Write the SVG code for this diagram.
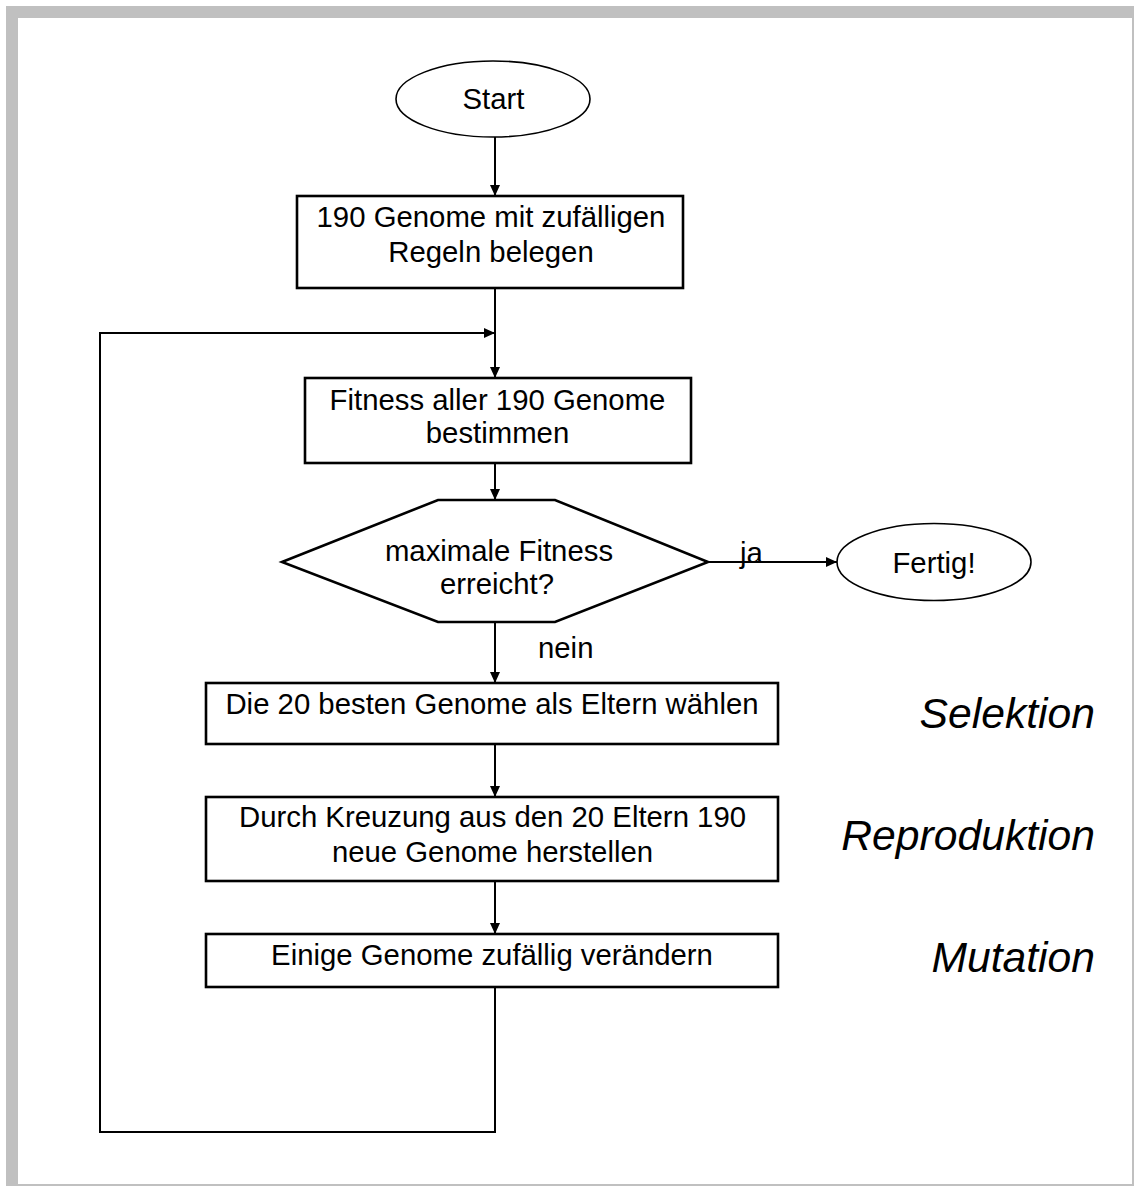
<svg xmlns="http://www.w3.org/2000/svg" width="1134" height="1186" viewBox="0 0 1134 1186">
  <style>
    text { font-family: "Liberation Sans", Arial, sans-serif; fill: #000; }
    .t { font-size: 29.33px; text-anchor: middle; }
    .lab { font-size: 29.33px; }
    .side { font-size: 42.67px; font-style: italic; text-anchor: end; }
    .box { fill: #fff; stroke: #000; stroke-width: 2.6; }
    .ell { fill: #fff; stroke: #000; stroke-width: 1.6; }
    .con { fill: none; stroke: #000; stroke-width: 2; }
  </style>
  <defs>
    <marker id="arr" viewBox="0 0 11 10" refX="11" refY="5" markerWidth="11" markerHeight="10" markerUnits="userSpaceOnUse" orient="auto">
      <path d="M0,0 L11,5 L0,10 z" fill="#000"/>
    </marker>
  </defs>
  <rect x="6" y="6" width="1128" height="1180" fill="#c0c0c0"/>
  <rect x="18" y="18" width="1114" height="1166" fill="#fff"/>

  <g id="connectors">
    <line class="con" x1="495" y1="137" x2="495" y2="196" marker-end="url(#arr)"/>
    <line class="con" x1="495" y1="288" x2="495" y2="378" marker-end="url(#arr)"/>
    <line class="con" x1="495" y1="463" x2="495" y2="500" marker-end="url(#arr)"/>
    <line class="con" x1="708" y1="562" x2="837" y2="562" marker-end="url(#arr)"/>
    <line class="con" x1="495" y1="622" x2="495" y2="683" marker-end="url(#arr)"/>
    <line class="con" x1="495" y1="744" x2="495" y2="797" marker-end="url(#arr)"/>
    <line class="con" x1="495" y1="881" x2="495" y2="934" marker-end="url(#arr)"/>
    <path class="con" d="M495,987 V1132 H100 V333 H495" marker-end="url(#arr)"/>
    <text class="lab" x="740" y="563">ja</text>
    <text class="lab" x="538" y="658">nein</text>
  </g>

  <g id="start">
    <ellipse class="ell" cx="493" cy="99" rx="97" ry="38"/>
    <text class="t" x="493.5" y="109">Start</text>
  </g>

  <g id="init">
    <rect class="box" x="297" y="196" width="386" height="92"/>
    <text class="t" x="491" y="227">190 Genome mit zufälligen</text>
    <text class="t" x="491" y="262">Regeln belegen</text>
  </g>

  <g id="fitness">
    <rect class="box" x="305" y="378" width="386" height="85"/>
    <text class="t" x="497.5" y="410">Fitness aller 190 Genome</text>
    <text class="t" x="497.5" y="443">bestimmen</text>
  </g>

  <g id="decision">
    <polygon class="box" points="282,562 438,500 555,500 708,562 555,622 438,622"/>
    <text class="t" x="499" y="561">maximale Fitness</text>
    <text class="t" x="497" y="594">erreicht?</text>
  </g>

  <g id="fertig">
    <ellipse class="ell" cx="934" cy="562" rx="97" ry="38.5"/>
    <text class="t" x="934" y="573">Fertig!</text>
  </g>

  <g id="selektion">
    <rect class="box" x="206" y="683" width="572" height="61"/>
    <text class="t" x="492" y="714">Die 20 besten Genome als Eltern wählen</text>
  </g>

  <g id="reproduktion">
    <rect class="box" x="206" y="797" width="572" height="84"/>
    <text class="t" x="492.5" y="827">Durch Kreuzung aus den 20 Eltern 190</text>
    <text class="t" x="492.5" y="862">neue Genome herstellen</text>
  </g>

  <g id="mutation">
    <rect class="box" x="206" y="934" width="572" height="53"/>
    <text class="t" x="492" y="965">Einige Genome zufällig verändern</text>
  </g>

  <g id="side-labels">
    <text class="side" x="1095" y="728">Selektion</text>
    <text class="side" x="1095" y="850">Reproduktion</text>
    <text class="side" x="1095" y="972">Mutation</text>
  </g>
</svg>
